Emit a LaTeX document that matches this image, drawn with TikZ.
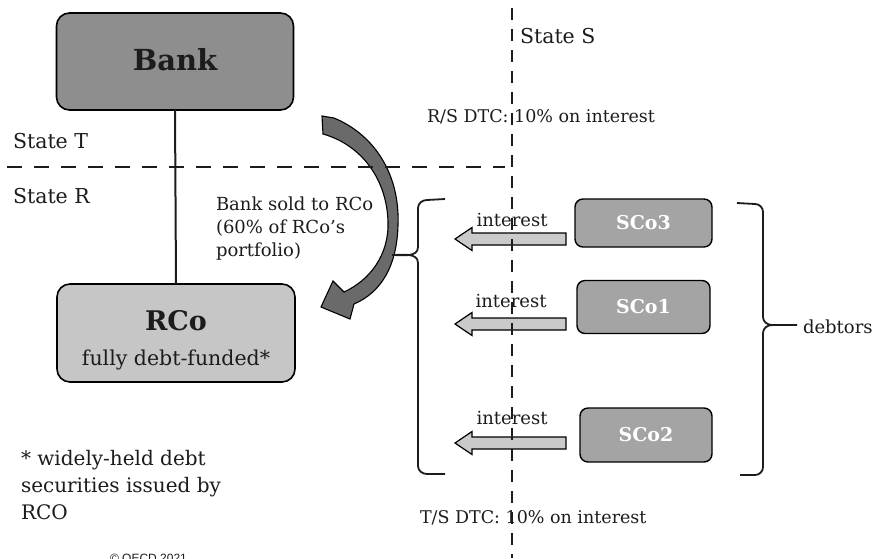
\documentclass[tikz,border=0pt]{standalone}
\usepackage{fontspec}
\setmainfont{DejaVu Serif}
\newfontfamily\notefont{Liberation Sans}
\usetikzlibrary{calc}
\definecolor{ink}{HTML}{1C1C1C}
\definecolor{bankfill}{HTML}{8E8E8E}
\definecolor{rcofill}{HTML}{C6C6C6}
\definecolor{scofill}{HTML}{A4A4A4}
\definecolor{flowfill}{HTML}{CACACA}
\definecolor{movefill}{HTML}{6A6A6A}
\begin{document}
\begin{tikzpicture}[x=1pt,y=-1pt,
  every node/.style={text=ink, inner sep=0pt, outer sep=0pt},
  entitybox/.style={draw=black, line width=1.6pt, rounded corners=13pt},
  debtorbox/.style={draw=black, line width=1.4pt, rounded corners=8pt, fill=scofill},
  debtorname/.style={text=white, font=\fontsize{19}{22}\selectfont\bfseries},
  bodytext/.style={font=\fontsize{18}{23}\selectfont},
  statename/.style={anchor=west, font=\fontsize{20.5}{25}\selectfont},
  taxnote/.style={anchor=west, font=\fontsize{17.5}{21}\selectfont},
  border/.style={draw=ink, line width=2.6pt},
  brace/.style={draw=ink, line width=1.8pt},
  flow/.style={draw=black, line width=1.2pt, fill=flowfill, line join=miter},
  link/.style={draw=ink, line width=2pt}]
\useasboundingbox[fill=white] (0,0) rectangle (875,558);

% owner and holding company
\node[entitybox, fill=bankfill, minimum width=237pt, minimum height=97pt] (bank) at (175,61.5) {};
\node[font=\fontsize{29}{32}\selectfont\bfseries] (banktext) at (175,60) {Bank};
\node[entitybox, fill=rcofill, minimum width=238pt, minimum height=98pt] (rco) at (176,333) {};
\node[font=\fontsize{27}{30}\selectfont\bfseries] (rcotext) at (176,321) {RCo};
\node[font=\fontsize{20.5}{24}\selectfont] (rcosub) at (176,360) {fully debt-funded*};
\draw[link] (bank.south) -- (rco.north);

% transfer of the bank to RCo
\draw[draw=black, line width=1.1pt, fill=movefill, line join=miter]
  (322,116) -- (334,118)
  .. controls (375,135) and (400,175) .. (398,225)
  .. controls (397,265) and (382,292) .. (354,304)
  -- (350,319) -- (321,307) -- (333,281) -- (344,292)
  .. controls (370,280) and (389,255) .. (388,222)
  .. controls (387,180) and (362,145) .. (323,134) -- cycle;
\node[bodytext, anchor=north west, align=left] (sold) at (216,197)
  {Bank sold to RCo\\(60\% of RCo’s\\portfolio)};

% state labels
\node[statename] (st) at (13,141) {State T};
\node[statename] (sr) at (13,196) {State R};
\node[statename] (ss) at (520,36) {State S};
\node[taxnote] (rs) at (427,117) {R/S DTC: 10\% on interest};
\node[taxnote] (ts) at (420,518) {T/S DTC: 10\% on interest};

% debtors
\node[debtorbox, minimum width=137pt, minimum height=48pt] (sco3) at (643.5,223) {};
\node[debtorname] at (sco3) {SCo3};
\node[debtorbox, minimum width=133pt, minimum height=53pt] (sco1) at (643.5,307) {};
\node[debtorname] at (sco1) {SCo1};
\node[debtorbox, minimum width=132pt, minimum height=54pt] (sco2) at (646,435) {};
\node[debtorname] at (sco2) {SCo2};

% interest payments
\coordinate (f3) at (566,239);
\coordinate (f1) at (566,324);
\coordinate (f2) at (566,443);
\foreach \p in {f3,f1,f2}{
  \draw[flow] ($(\p)+(0,-6)$) -- ++(-94,0) -- ++(0,-5.5) -- ++(-17,11.5)
    -- ++(17,11.5) -- ++(0,-5.5) -- ++(94,0) -- cycle;
}
\node[bodytext] (i3) at (512,220) {interest};
\node[bodytext] (i1) at (511,301) {interest};
\node[bodytext] (i2) at (512,418) {interest};

% braces
\coordinate (lt) at (445,199);
\coordinate (lb) at (445,474);
\coordinate (lm) at (392,255);
\draw[brace] (lt) -- (427,200) to[out=180,in=90] (418,208) -- (418,247)
  to[out=-90,in=0] (lm);
\draw[brace] (lm) to[out=0,in=90] (418,263) -- (418,466)
  to[out=-90,in=180] (427,474) -- (lb);
\coordinate (rt) at (737,203);
\coordinate (rb) at (740,475);
\coordinate (rm) at (797,325);
\draw[brace] (rt) -- (755,204) to[out=0,in=90] (763,212) -- (763,317)
  to[out=-90,in=180] (772,325) -- (rm);
\draw[brace] (772,325) to[out=180,in=90] (763,333) -- (763,467)
  to[out=-90,in=0] (755,475) -- (rb);
\node[bodytext, anchor=west] (debtors) at (803,327) {debtors};

% footnote
\node[anchor=north west, align=left, font=\fontsize{20}{27}\selectfont] (note) at (21,450)
  {* widely-held debt\\securities issued by\\RCO};
\node[anchor=base west, font=\notefont\fontsize{12}{14}\selectfont] (copy) at (110,562) {© OECD 2021};

% borders between states
\coordinate (hl) at (7,167);
\coordinate (hr) at (505,167);
\draw[border, dash pattern=on 15pt off 12pt] (hl) -- (hr);
\coordinate (vt) at (512,8);
\coordinate (vb) at (512,558);
\draw[border, line width=2.8pt, dash pattern=on 12pt off 9pt] (vt) -- (vb);
\end{tikzpicture}
\end{document}
